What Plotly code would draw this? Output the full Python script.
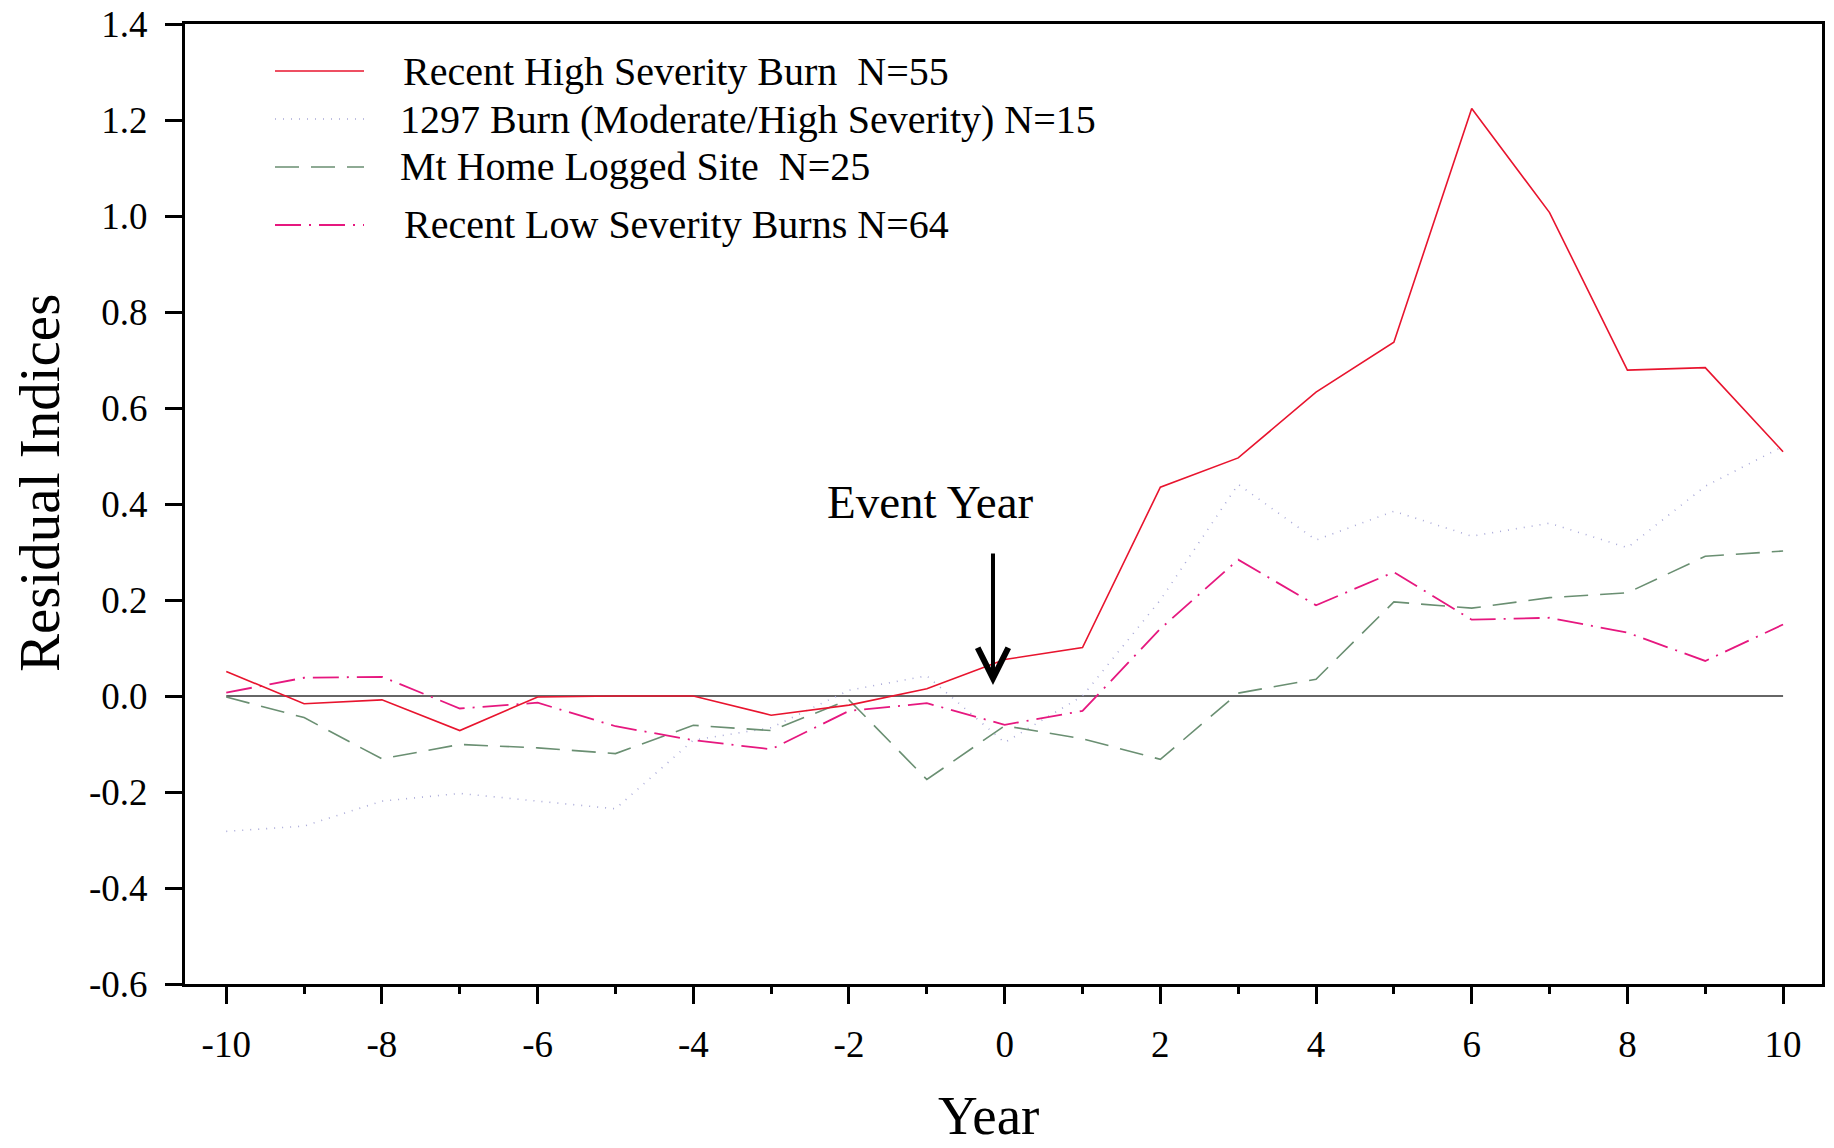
import plotly.graph_objects as go

years = list(range(-10, 11))

high_severity = [0.051, -0.016, -0.008, -0.072, -0.002, 0.000, 0.000, -0.040, -0.019, 0.015,
                 0.076, 0.101, 0.435, 0.496, 0.633, 0.737, 1.224, 1.007, 0.679, 0.684, 0.509]
burn_1297 = [-0.282, -0.271, -0.219, -0.203, -0.219, -0.235, -0.092, -0.066, 0.012, 0.042,
             -0.097, 0.000, 0.200, 0.441, 0.325, 0.385, 0.333, 0.360, 0.309, 0.437, 0.520]
logged_site = [-0.002, -0.045, -0.131, -0.101, -0.108, -0.120, -0.061, -0.072, -0.008, -0.174,
               -0.062, -0.089, -0.132, 0.006, 0.035, 0.196, 0.183, 0.205, 0.215, 0.291, 0.302]
low_severity = [0.007, 0.038, 0.040, -0.026, -0.014, -0.063, -0.092, -0.111, -0.031, -0.015,
                -0.060, -0.031, 0.140, 0.284, 0.189, 0.258, 0.159, 0.163, 0.132, 0.073, 0.149]

series_names = [
    "Recent High Severity Burn  N=55",
    "1297 Burn (Moderate/High Severity) N=15",
    "Mt Home Logged Site  N=25",
    "Recent Low Severity Burns N=64",
]

x_tick_vals = [-10, -8, -6, -4, -2, 0, 2, 4, 6, 8, 10]
x_tick_text = ["-10", "-8", "-6", "-4", "-2", "0", "2", "4", "6", "8", "10"]
y_tick_vals = [-0.6, -0.4, -0.2, 0.0, 0.2, 0.4, 0.6, 0.8, 1.0, 1.2, 1.4]
y_tick_text = ["-0.6", "-0.4", "-0.2", "0.0", "0.2", "0.4", "0.6", "0.8", "1.0", "1.2", "1.4"]

event_x = -0.15
event_tail_y = 0.30
event_tip_y = 0.023

FONT = "Liberation Serif, Times New Roman, serif"

styles = [
    dict(color="#E8142E", width=1.6, dash="solid"),
    dict(color="#A9A9D8", width=1.6, dash="1px,7px"),
    dict(color="#6A8F72", width=1.6, dash="24px,12px"),
    dict(color="#E6187F", width=1.8, dash="26px,8px,2px,8px"),
]
series = [high_severity, burn_1297, logged_site, low_severity]

fig = go.Figure()

for idx in [1, 2, 3, 0]:
    fig.add_trace(go.Scatter(
        x=years, y=series[idx], mode="lines", name=series_names[idx],
        line=styles[idx], showlegend=False, hoverinfo="skip"))

fig.add_shape(type="line", xref="x", yref="y", x0=years[0], x1=years[-1], y0=0, y1=0,
              line=dict(color="#333333", width=1.5), layer="below")

legend_rows_y = [71, 119, 167, 225]
legend_text_x = [401, 398, 398, 402]
plot_left, plot_right, plot_top, plot_bottom = 185, 1822, 24, 984
pw = plot_right - plot_left
ph = plot_bottom - plot_top

def px_to_paper_x(px):
    return (px - plot_left) / pw

def px_to_paper_y(py):
    return (plot_bottom - py) / ph

for i in range(4):
    yy = px_to_paper_y(legend_rows_y[i])
    fig.add_shape(type="line", xref="paper", yref="paper",
                  x0=px_to_paper_x(275), x1=px_to_paper_x(364), y0=yy, y1=yy,
                  line=dict(color=styles[i]["color"], width=styles[i]["width"],
                            dash=styles[i]["dash"]))
    fig.add_annotation(xref="paper", yref="paper", x=px_to_paper_x(legend_text_x[i]), y=yy,
                       text=series_names[i], showarrow=False, xanchor="left", yanchor="middle",
                       font=dict(family=FONT, size=40, color="black"))

fig.add_annotation(x=event_x, y=event_tip_y, ax=event_x, ay=event_tail_y,
                   xref="x", yref="y", axref="x", ayref="y",
                   showarrow=True, arrowhead=5, arrowsize=1.5, arrowwidth=4,
                   arrowcolor="black", text="", standoff=0)
fig.add_annotation(x=-0.95, y=0.404, xref="x", yref="y", text="Event Year",
                   showarrow=False, font=dict(family=FONT, size=47, color="black"),
                   xanchor="center", yanchor="middle")

fig.add_annotation(xref="paper", yref="paper", x=px_to_paper_x(39), y=px_to_paper_y(483),
                   text="Residual Indices", textangle=-90, showarrow=False,
                   xanchor="center", yanchor="middle",
                   font=dict(family=FONT, size=57, color="black"))
fig.add_annotation(xref="paper", yref="paper", x=px_to_paper_x(988), y=px_to_paper_y(1148),
                   text="Year", showarrow=False, xanchor="center", yanchor="bottom",
                   height=56, valign="bottom",
                   font=dict(family=FONT, size=55, color="black"))

fig.update_xaxes(range=[-10.53, 10.5], tickvals=x_tick_vals, ticktext=x_tick_text,
                 showgrid=False, zeroline=False, showline=True, linecolor="black", linewidth=3,
                 mirror=True, ticks="outside", ticklen=17, tickwidth=3, tickcolor="black",
                 ticklabelstandoff=9, automargin=False,
                 minor=dict(dtick=1, tick0=0, ticks="outside", ticklen=7, tickwidth=3,
                            tickcolor="black", showgrid=False),
                 tickfont=dict(family=FONT, size=37, color="black"))
fig.update_yaxes(range=[-0.6, 1.4], tickvals=y_tick_vals, ticktext=y_tick_text,
                 showgrid=False, zeroline=False, showline=True, linecolor="black", linewidth=3,
                 mirror=True, ticks="outside", ticklen=17, tickwidth=3, tickcolor="black",
                 ticklabelstandoff=10, automargin=False,
                 tickfont=dict(family=FONT, size=37, color="black"))

fig.update_layout(width=1834, height=1148,
                  margin=dict(l=plot_left, r=1834 - plot_right, t=plot_top, b=1148 - plot_bottom,
                              autoexpand=False),
                  paper_bgcolor="white", plot_bgcolor="white", showlegend=False)

fig.write_html("out.html", config={"displayModeBar": False},
               post_script="document.body.style.margin='0';document.body.style.overflow='hidden';")
